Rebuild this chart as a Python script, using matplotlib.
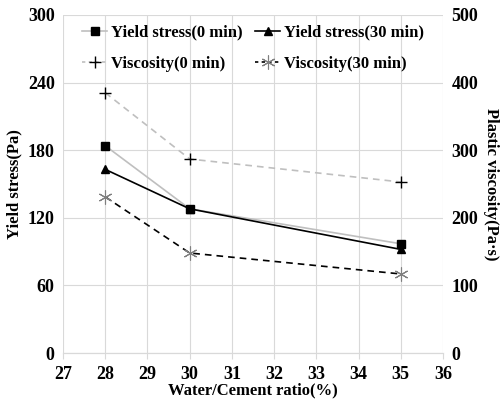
import matplotlib.pyplot as plt
from matplotlib.lines import Line2D

plt.rcParams['font.family'] = ['Liberation Serif', 'DejaVu Serif']
plt.rcParams['font.weight'] = 'bold'

# Data
wc_ratio = [28, 30, 35]
yield_0 = [184, 128, 97]
yield_30 = [163, 128, 92]
visc_0 = [385, 287, 253]
visc_30 = [231, 148, 117]

x_ticks = list(range(27, 37))
left_ticks = list(range(0, 301, 60))
right_ticks = list(range(0, 501, 100))

fig = plt.figure(figsize=(5.04, 4.04), dpi=100)
ax = fig.add_axes([0.125, 0.126, 0.754, 0.837])
ax2 = ax.twinx()

# Yield stress on left axis
ax.plot(wc_ratio, yield_0, color='#bfbfbf', lw=1.2, marker='s', ms=6,
        mfc='black', mec='black', zorder=3)
ax.plot(wc_ratio, yield_30, color='black', lw=1.2, marker='^', ms=6,
        mfc='black', mec='black', zorder=4)

# Viscosity on right axis
ax2.plot(wc_ratio, visc_0, color='#bfbfbf', lw=1.2, ls=(0, (4, 3)),
         marker='+', ms=9, mec='black', mew=1)
ax2.plot(wc_ratio, visc_30, color='black', lw=1.2, ls=(0, (4, 3)),
         marker=(6, 2, 0), ms=10, mec='#7f7f7f', mew=0.8)

ax.set_xlim(27, 36)
ax.set_ylim(0, 300)
ax2.set_ylim(0, 500)
tick_font = {'family': 'Liberation Serif', 'weight': 'bold', 'size': 13}
ax.set_xticks(x_ticks, [str(t) for t in x_ticks], fontdict=tick_font)
ax.set_yticks(left_ticks, [str(t) for t in left_ticks], fontdict=tick_font)
ax2.set_yticks(right_ticks, [str(t) for t in right_ticks], fontdict=tick_font)

ax.grid(True, color='#d9d9d9', lw=0.8)
ax.set_axisbelow(True)
for a in (ax, ax2):
    for s in ['top', 'left', 'right']:
        a.spines[s].set_visible(False)
    a.spines['bottom'].set_color('#d9d9d9')
    a.tick_params(length=0, pad=6)
ax.tick_params(axis='x', length=4, color='#d9d9d9', pad=5)

ax.set_xlabel('Water/Cement ratio(%)', fontsize=12, fontweight='bold', labelpad=0)
ax.set_ylabel('Yield stress(Pa)', fontsize=12, fontweight='bold', labelpad=4)
ax2.set_ylabel('Plastic viscosity(Pa·s)', fontsize=12, fontweight='bold',
               rotation=270, labelpad=15)

h_y0 = Line2D([], [], color='#bfbfbf', lw=1.2, marker='s', ms=6, mfc='black', mec='black')
h_y30 = Line2D([], [], color='black', lw=1.2, marker='^', ms=6, mfc='black', mec='black')
h_v0 = Line2D([], [], color='#bfbfbf', lw=1.2, ls=(0, (2, 2)), marker='+', ms=9, mec='black')
h_v30 = Line2D([], [], color='black', lw=1.2, ls=(0, (2, 2)), marker=(6, 2, 0), ms=10,
               mec='#7f7f7f', mew=0.8)
# column-wise order so rows read: yield 0 / yield 30, visc 0 / visc 30
handles = [h_y0, h_v0, h_y30, h_v30]
labels = ['Yield stress(0 min)', 'Viscosity(0 min)',
          'Yield stress(30 min)', 'Viscosity(30 min)']
ax2.legend(handles, labels, ncol=2, loc='upper center', bbox_to_anchor=(0.5, 1.015),
           frameon=False, handlelength=1.5, handletextpad=0.2,
           columnspacing=0.8, labelspacing=0.9, prop={'weight': 'bold', 'size': 12})

fig.savefig('out.png', dpi=100)
